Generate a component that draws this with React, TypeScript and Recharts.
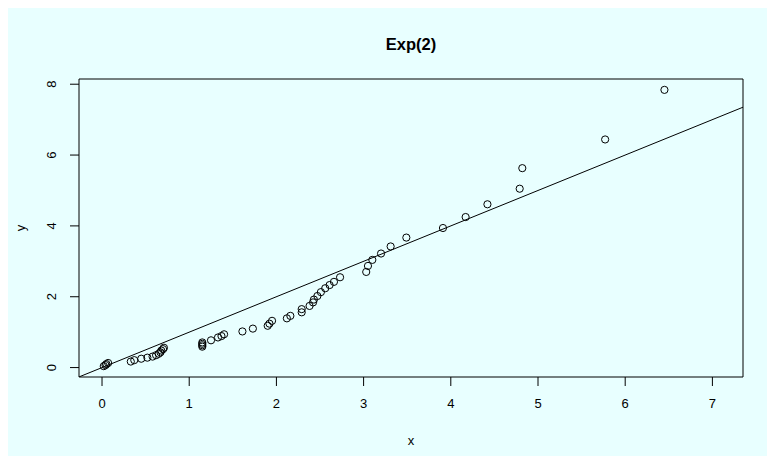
import React from 'react';
import {
  ScatterChart,
  Scatter,
  XAxis,
  YAxis,
  ReferenceLine,
  ReferenceArea,
  Label
} from 'recharts';

// sample quantiles (x) against observed values (y)
const qx = [
  0.02, 0.04, 0.05, 0.07, 0.33, 0.37, 0.45, 0.52, 0.58, 0.62, 0.65, 0.67, 0.68, 0.70,
  0.71, 1.15, 1.15, 1.15, 1.15, 1.25, 1.33, 1.37, 1.40, 1.61, 1.73, 1.90, 1.92, 1.95,
  2.12, 2.16, 2.29, 2.29, 2.38, 2.42, 2.43, 2.47, 2.51, 2.56, 2.61, 2.66, 2.73, 3.03,
  3.05, 3.10, 3.20, 3.31, 3.49, 3.91, 4.17, 4.42, 4.79, 4.82, 5.77, 6.45
];
const qy = [
  0.04, 0.07, 0.10, 0.13, 0.17, 0.21, 0.25, 0.28, 0.31, 0.35, 0.39, 0.43, 0.48, 0.52,
  0.56, 0.59, 0.63, 0.67, 0.71, 0.77, 0.85, 0.89, 0.94, 1.02, 1.10, 1.18, 1.24, 1.32,
  1.39, 1.46, 1.56, 1.65, 1.74, 1.84, 1.92, 2.02, 2.13, 2.24, 2.33, 2.42, 2.55, 2.70,
  2.87, 3.04, 3.22, 3.42, 3.67, 3.94, 4.25, 4.61, 5.05, 5.63, 6.44, 7.84
];

const xTicks = [0, 1, 2, 3, 4, 5, 6, 7];
const yTicks = [0, 2, 4, 6, 8];

// reference line y = a + b * x
const lineIntercept = 0;
const lineSlope = 1;

const xDomain: [number, number] = [-0.264, 7.351];
const yDomain: [number, number] = [-0.266, 8.147];

const points = qx.map((x, i) => ({ x, y: qy[i] }));

const FONT = '"Liberation Sans", Arial, Helvetica, sans-serif';

const OpenCircle = (props: any) => (
  <circle cx={props.cx} cy={props.cy} r={3.6} fill="none" stroke="#000" strokeWidth={1} />
);

const YTick = (props: any) => {
  const { x, y, payload } = props;
  return (
    <text
      x={x}
      y={y}
      transform={`rotate(-90, ${x}, ${y})`}
      textAnchor="middle"
      dominantBaseline="central"
      fontSize={13}
      fill="#000"
      fontFamily={FONT}
    >
      {payload.value}
    </text>
  );
};

const XTitle = (props: any) => {
  const vb = props.viewBox;
  return (
    <text x={vb.x + vb.width / 2} y={vb.y + 68} textAnchor="middle" fontSize={13} fill="#000" fontFamily={FONT}>
      x
    </text>
  );
};

const YTitle = (props: any) => {
  const vb = props.viewBox;
  const cx = 12;
  const cy = vb.y + vb.height / 2;
  return (
    <text
      x={cx}
      y={cy}
      transform={`rotate(-90, ${cx}, ${cy})`}
      textAnchor="middle"
      dominantBaseline="central"
      fontSize={13}
      fill="#000"
      fontFamily={FONT}
    >
      y
    </text>
  );
};

export default function App() {
  return (
    <div style={{ position: 'relative', width: 759, height: 448, background: '#E8FFFF', fontFamily: FONT }}>
      <div
        style={{
          position: 'absolute',
          left: 71,
          width: 664,
          top: 27,
          lineHeight: '19px',
          textAlign: 'center',
          fontWeight: 'bold',
          fontSize: 16.5,
          color: '#000'
        }}
      >
        Exp(2)
      </div>
      <ScatterChart width={759} height={448} margin={{ top: 71, right: 24, bottom: 0, left: 0 }}>
        <XAxis
          type="number"
          dataKey="x"
          domain={xDomain}
          ticks={xTicks}
          interval={0}
          allowDataOverflow
          axisLine={false}
          tickSize={9}
          tickMargin={13}
          tickLine={{ stroke: '#000' }}
          tick={{ fill: '#000', fontSize: 13, fontFamily: FONT }}
          height={79}
        >
          <Label content={<XTitle />} />
        </XAxis>
        <YAxis
          type="number"
          dataKey="y"
          domain={yDomain}
          ticks={yTicks}
          interval={0}
          allowDataOverflow
          axisLine={false}
          tickSize={9}
          tickMargin={18}
          tickLine={{ stroke: '#000' }}
          tick={<YTick />}
          width={71}
        >
          <Label content={<YTitle />} />
        </YAxis>
        <ReferenceArea
          x1={xDomain[0]}
          x2={xDomain[1]}
          y1={yDomain[0]}
          y2={yDomain[1]}
          fill="none"
          stroke="#000"
          strokeWidth={1}
          ifOverflow="visible"
        />
        <Scatter data={points} shape={<OpenCircle />} isAnimationActive={false} />
        <ReferenceLine
          segment={[
            { x: xDomain[0], y: lineIntercept + lineSlope * xDomain[0] },
            { x: xDomain[1], y: lineIntercept + lineSlope * xDomain[1] }
          ]}
          stroke="#000"
          strokeWidth={1}
          ifOverflow="hidden"
        />
      </ScatterChart>
    </div>
  );
}
